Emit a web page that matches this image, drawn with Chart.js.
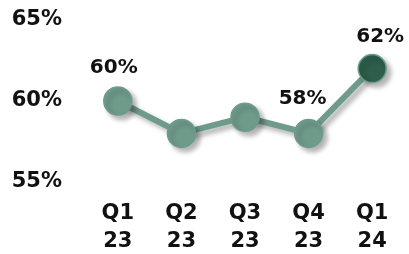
<!DOCTYPE html>
<html>
<head>
<meta charset="utf-8">
<script src="https://cdn.jsdelivr.net/npm/chart.js@4"></script>
<style>
  html, body { margin: 0; padding: 0; background: #fff; }
  #wrap { width: 409px; height: 254px; position: relative; }
</style>
</head>
<body>
<div id="wrap"><canvas id="lineChart"></canvas></div>
<script>
const quarters = [['Q1', '23'], ['Q2', '23'], ['Q3', '23'], ['Q4', '23'], ['Q1', '24']];
const shareValues = [60, 58, 59, 58, 62];
const yTicks = [55, 60, 65];
// which points carry a value label
const labelled = [true, false, false, true, true];

const fontFamily = '"DejaVu Sans", sans-serif';
const lightGreen = '#6f9b8b';
const darkGreen = '#2c5e4b';

// offsets for the value labels (style only)
const labelShift = [[-4, -33], [0, -33], [0, -33], [-6, -35], [8, -32]];

const shadowPlugin = {
  id: 'shadow',
  beforeDatasetDraw(chart) {
    const ctx = chart.ctx;
    ctx.save();
    ctx.shadowColor = 'rgba(0,0,0,0.3)';
    ctx.shadowBlur = 5;
    ctx.shadowOffsetX = 4;
    ctx.shadowOffsetY = 4;
  },
  afterDatasetDraw(chart) {
    chart.ctx.restore();
  }
};

const valueLabels = {
  id: 'valueLabels',
  afterDatasetsDraw(chart) {
    const ctx = chart.ctx;
    const meta = chart.getDatasetMeta(0);
    ctx.save();
    ctx.font = 'bold 20px ' + fontFamily;
    ctx.fillStyle = '#111';
    ctx.textAlign = 'center';
    ctx.textBaseline = 'middle';
    meta.data.forEach((pt, i) => {
      if (!labelled[i]) return;
      ctx.fillText(shareValues[i] + '%', pt.x + labelShift[i][0], pt.y + labelShift[i][1]);
    });
    ctx.restore();
  }
};

const lineChart = new Chart(document.getElementById('lineChart'), {
  type: 'line',
  data: {
    labels: quarters,
    datasets: [{
      data: shareValues,
      borderColor: lightGreen,
      borderWidth: 6,
      pointRadius: 14,
      pointBorderWidth: 1.5,
      pointBackgroundColor: shareValues.map((v, i) => i === shareValues.length - 1 ? darkGreen : lightGreen),
      pointBorderColor: lightGreen,
      tension: 0,
      clip: false
    }]
  },
  options: {
    responsive: true,
    maintainAspectRatio: false,
    animation: false,
    layout: { autoPadding: false, padding: { left: 0, right: 5, top: 20, bottom: 0 } },
    plugins: {
      legend: { display: false },
      tooltip: { enabled: false }
    },
    scales: {
      x: {
        offset: true,
        grid: { display: false, drawTicks: false },
        border: { display: false },
        ticks: {
          color: '#111',
          padding: 18,
          maxRotation: 0,
          autoSkip: false,
          font: { family: fontFamily, size: 21, weight: 'bold', lineHeight: 1.333 }
        },
        afterFit: (scale) => { scale.height = 72; scale.paddingLeft = 0; scale.paddingRight = 0; }
      },
      y: {
        min: 55,
        max: 65,
        afterBuildTicks: (scale) => { scale.ticks = yTicks.map(v => ({ value: v })); },
        grid: { display: false, drawTicks: false },
        border: { display: false },
        ticks: {
          color: '#111',
          padding: 24,
          callback: (v) => v + '%',
          font: { family: fontFamily, size: 21, weight: 'bold' }
        },
        afterFit: (scale) => { scale.width = 86; scale.paddingTop = 0; scale.paddingBottom = 0; }
      }
    }
  },
  plugins: [shadowPlugin, valueLabels]
});
</script>
</body>
</html>
